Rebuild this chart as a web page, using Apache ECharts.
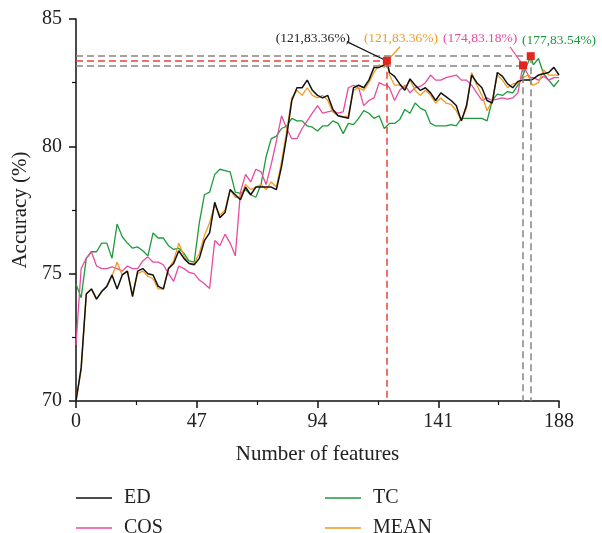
<!DOCTYPE html>
<html>
<head>
<meta charset="utf-8">
<script src="https://cdn.jsdelivr.net/npm/echarts@6/dist/echarts.min.js"></script>
<style>
  html, body { margin: 0; padding: 0; background: #fff; }
  #chart { width: 602px; height: 533px; }
</style>
</head>
<body>
<div id="chart"></div>
<script>
// number of features (x)
var features = [0, 2, 4, 6, 8, 10, 12, 14, 16, 18, 20, 22, 24, 26, 28, 30, 32, 34, 36, 38,
  40, 42, 44, 46, 48, 50, 52, 54, 56, 58, 60, 62, 64, 66, 68, 70, 72, 74, 76, 78,
  80, 82, 84, 86, 88, 90, 92, 94, 96, 98, 100, 102, 104, 106, 108, 110, 112, 114, 116, 118,
  120, 121, 122, 124, 126, 128, 130, 132, 134, 136, 138, 140, 142, 144, 146, 148, 150, 152, 154, 156,
  158, 160, 162, 164, 166, 168, 170, 172, 174, 176, 177, 178, 180, 182, 184, 186, 188];

// accuracy (%) per method
var edAcc = [70.0, 71.3, 74.2, 74.4, 74.0, 74.3, 74.5, 74.95, 74.4, 74.95, 75.1, 74.1, 75.1, 75.2, 75.0, 74.95, 74.5, 74.4, 75.2, 75.4,
  75.9, 75.6, 75.4, 75.35, 75.6, 76.3, 76.6, 77.8, 77.2, 77.4, 78.3, 78.1, 77.9, 78.4, 78.1, 78.4, 78.4, 78.4, 78.4, 78.3,
  79.2, 80.4, 81.8, 82.3, 82.3, 82.6, 82.2, 82.0, 81.9, 82.0, 81.45, 81.2, 81.15, 81.1, 82.3, 82.4, 82.3, 82.6, 83.1, 83.1,
  83.2, 83.36, 82.9, 82.75, 82.45, 82.2, 82.65, 82.4, 82.2, 82.3, 82.1, 81.8, 82.1, 81.95, 81.8, 81.6, 81.0, 81.6, 82.8, 82.5,
  82.3, 81.8, 81.7, 82.9, 82.75, 82.45, 82.3, 82.55, 82.6, 82.6, 82.6, 82.65, 82.8, 82.85, 82.9, 83.1, 82.8];

var cosAcc = [72.2, 75.2, 75.6, 75.86, 75.3, 75.2, 75.2, 75.27, 75.2, 75.1, 75.3, 75.2, 75.2, 75.5, 75.66, 75.45, 75.45, 75.35, 75.0, 74.7,
  75.3, 75.2, 75.05, 75.0, 74.75, 74.6, 74.42, 76.3, 76.1, 76.55, 76.2, 75.7, 78.2, 78.9, 78.6, 79.1, 79.0, 78.5, 79.3, 80.2,
  81.2, 80.7, 80.3, 80.3, 80.7, 81.0, 81.3, 81.6, 81.3, 81.35, 81.4, 81.3, 81.35, 82.3, 82.4, 82.3, 81.6, 81.8, 81.9, 82.5,
  82.4, 82.4, 82.3, 81.8, 82.2, 82.4, 82.1, 82.3, 82.35, 82.5, 82.8, 82.6, 82.6, 82.7, 82.75, 82.8, 82.6, 82.6, 82.4, 82.1,
  81.8, 81.9, 81.8, 81.85, 81.9, 81.85, 81.9, 82.1, 83.18, 82.8, 82.7, 82.7, 82.6, 82.75, 82.6, 82.7, 82.7];

var tcAcc = [74.6, 74.05, 75.6, 75.86, 75.86, 76.2, 76.2, 75.6, 76.95, 76.45, 76.2, 76.0, 76.05, 75.9, 75.7, 76.6, 76.4, 76.4, 76.1, 75.95,
  76.0, 75.8, 75.5, 75.45, 77.0, 78.1, 78.2, 78.9, 79.1, 79.05, 79.0, 78.2, 78.15, 78.3, 78.1, 78.0, 78.5, 79.6, 80.3, 80.4,
  80.7, 80.8, 81.1, 81.0, 81.0, 80.8, 80.75, 80.6, 80.8, 80.8, 81.0, 80.9, 80.5, 80.9, 80.85, 81.1, 81.4, 81.3, 81.1, 81.2,
  80.7, 80.8, 80.9, 80.9, 81.05, 81.45, 81.3, 81.7, 81.5, 81.4, 80.9, 80.8, 80.8, 80.8, 80.85, 80.8, 81.1, 81.1, 81.1, 81.1,
  81.1, 81.0, 81.8, 82.05, 82.0, 82.15, 82.1, 82.4, 82.8, 83.3, 83.54, 83.2, 83.45, 82.85, 82.6, 82.35, 82.6];

var meanAcc = [70.0, 71.2, 74.2, 74.4, 74.0, 74.3, 74.5, 74.9, 75.45, 74.95, 75.1, 74.2, 75.0, 75.1, 74.9, 74.8, 74.4, 74.4, 75.2, 75.5,
  76.2, 75.7, 75.4, 75.4, 75.8, 76.5, 77.0, 77.7, 77.3, 77.5, 78.3, 78.0, 78.0, 78.5, 78.3, 78.4, 78.5, 78.3, 78.6, 78.4,
  79.4, 80.6, 81.9, 82.2, 82.0, 82.3, 82.0, 81.9, 82.0, 81.8, 81.35, 81.2, 81.15, 81.2, 82.2, 82.3, 82.2, 82.5, 82.9, 83.2,
  83.1, 83.36, 82.8, 82.4, 82.4, 82.3, 82.6, 82.2, 82.0, 82.2, 82.0, 81.7, 81.9, 81.7, 81.65, 81.4, 81.0, 81.5, 82.9, 82.4,
  82.0, 81.4, 81.8, 82.8, 82.6, 82.3, 82.45, 82.5, 82.7, 82.8, 82.5, 82.4, 82.5, 83.0, 82.8, 82.8, 82.8];

// best points: [feature, accuracy]
var bestEd = [121, 83.36];
var bestCos = [174, 83.18];
var bestTc = [177, 83.54];

var FONT = '"Liberation Serif", "DejaVu Serif", serif';

function pairs(vals){
	return features.map(function(x, i){ return [x, vals[i]]; });
}

function lbl(text, coord, color){
	return {
		coord: coord, symbolSize: 0,
		label: { show: true, position: 'inside', formatter: text, color: color, fontSize: 13.5, fontFamily: FONT }
	};
}

function legendBox(left, names){
	return {
		orient: 'vertical', left: left, top: 488, height: 60, padding: 0, itemGap: 10,
		icon: 'rect', itemWidth: 36, itemHeight: 1.5,
		textStyle: { fontFamily: FONT, fontSize: 20, lineHeight: 16, color: '#222', padding: [0, 0, 0, 7] },
		data: names
	};
}

var redDash = { color: '#e8413a', type: [7, 4], width: 1.5 };
var greyDash = { color: '#858585', type: [7, 4], width: 1.5 };

var myChart = echarts.init(document.getElementById('chart'), null, { renderer: 'canvas' });

var option = {
	animation: false,
	grid: { left: 76, right: 43, top: 19, bottom: 132 },
	legend: [legendBox(76, ['ED', 'COS']), legendBox(325, ['TC', 'MEAN'])],
	xAxis: {
		type: 'value', min: 0, max: 188, interval: 47,
		name: 'Number of features', nameLocation: 'middle', nameGap: 43,
		nameTextStyle: { fontFamily: FONT, fontSize: 21, color: '#222' },
		axisLine: { lineStyle: { color: '#111', width: 1.5 } },
		axisTick: { length: 7, lineStyle: { color: '#111', width: 1.5 } },
		minorTick: { show: true, splitNumber: 2, length: 4, lineStyle: { color: '#111', width: 1.2 } },
		axisLabel: { fontFamily: FONT, fontSize: 20, color: '#222', margin: 11 },
		splitLine: { show: false }
	},
	yAxis: {
		type: 'value', min: 70, max: 85, interval: 5,
		name: 'Accuracy (%)', nameLocation: 'middle', nameGap: 43,
		nameTextStyle: { fontFamily: FONT, fontSize: 21, color: '#222' },
		axisLine: { show: true, lineStyle: { color: '#111', width: 1.5 } },
		axisTick: { show: true, length: 7, lineStyle: { color: '#111', width: 1.5 } },
		minorTick: { show: true, splitNumber: 2, length: 4, lineStyle: { color: '#111', width: 1.2 } },
		axisLabel: { fontFamily: FONT, fontSize: 20, color: '#222', margin: 14 },
		splitLine: { show: false }
	},
	series: [{
		name: 'TC', type: 'line', data: pairs(tcAcc), symbol: 'none',
		lineStyle: { width: 1.3 }, color: '#1e9a3c'
	}, {
		name: 'COS', type: 'line', data: pairs(cosAcc), symbol: 'none',
		lineStyle: { width: 1.3 }, color: '#e84c9e'
	}, {
		name: 'MEAN', type: 'line', data: pairs(meanAcc), symbol: 'none',
		lineStyle: { width: 1.3 }, color: '#f39a1e'
	}, {
		name: 'ED', type: 'line', data: pairs(edAcc), symbol: 'none',
		lineStyle: { width: 1.5 }, color: '#111',
		markLine: {
			silent: true, symbol: ['none', 'none'], label: { show: false },
			data: [
				[{ coord: [0, bestTc[1]], lineStyle: greyDash }, { coord: bestTc }],
				[{ coord: bestTc, lineStyle: greyDash }, { coord: [bestTc[0], 70] }],
				[{ coord: [0, bestCos[1]], lineStyle: greyDash }, { coord: bestCos }],
				[{ coord: bestCos, lineStyle: greyDash }, { coord: [bestCos[0], 70] }],
				[{ coord: [0, bestEd[1]], lineStyle: redDash }, { coord: bestEd }],
				[{ coord: bestEd, lineStyle: redDash }, { coord: [bestEd[0], 70] }],
				// leader lines
				[{ coord: [105.4, 84.11], lineStyle: { color: '#111', type: 'solid', width: 1.2 } }, { coord: [119.6, 83.42] }],
				[{ coord: [122.2, 83.47], lineStyle: { color: '#f39a1e', type: 'solid', width: 1.2 } }, { coord: [126.1, 83.91] }],
				[{ coord: [168.9, 83.91], lineStyle: { color: '#e84c9e', type: 'solid', width: 1.2 } }, { coord: [173.5, 83.26] }],
				[{ coord: [178.7, 83.58], lineStyle: { color: '#1e9a3c', type: 'solid', width: 1.2 } }, { coord: [188.4, 83.9] }]
			]
		},
		markPoint: {
			silent: true,
			data: [
				{ coord: bestEd, symbol: 'rect', symbolSize: 8, itemStyle: { color: '#e2261c' }, label: { show: false } },
				{ coord: bestCos, symbol: 'rect', symbolSize: 8, itemStyle: { color: '#e2261c' }, label: { show: false } },
				{ coord: bestTc, symbol: 'rect', symbolSize: 8, itemStyle: { color: '#e2261c' }, label: { show: false } },
				lbl('(121,83.36%)', [92.2, 84.25], '#222'),
				lbl('(121,83.36%)', [126.5, 84.25], '#f39a1e'),
				lbl('(174,83.18%)', [157.3, 84.25], '#e84c9e'),
				lbl('(177,83.54%)', [188, 84.17], '#1e9a3c')
			]
		}
	}]
};

myChart.setOption(option);
</script>
</body>
</html>
